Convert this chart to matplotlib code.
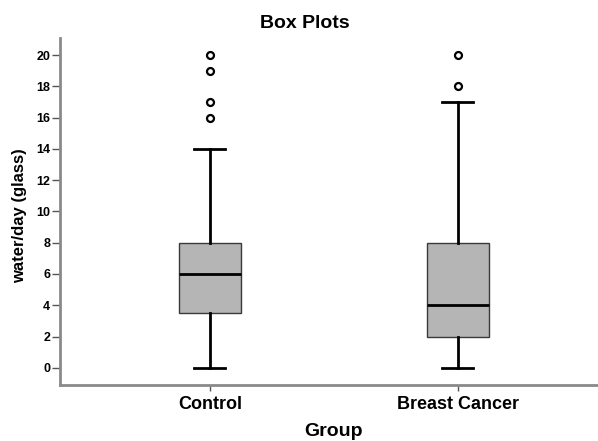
import matplotlib.pyplot as plt

plt.rcParams["font.family"] = ["Liberation Sans", "DejaVu Sans"]

# Data
groups = ["Control", "Breast Cancer"]
whisker_low = [0, 0]
q1 = [3.5, 2]
medians = [6, 4]
q3 = [8, 8]
whisker_high = [14, 17]
outliers = [[16, 17, 19, 20], [18, 20]]
y_ticks = [0, 2, 4, 6, 8, 10, 12, 14, 16, 18, 20]

stats = []
for i, g in enumerate(groups):
    stats.append(
        {
            "label": g,
            "whislo": whisker_low[i],
            "q1": q1[i],
            "med": medians[i],
            "q3": q3[i],
            "whishi": whisker_high[i],
            "fliers": outliers[i],
        }
    )

fig = plt.figure(figsize=(5.98, 4.41), dpi=100)
ax = fig.add_axes([0.1003, 0.127, 0.8997, 0.787])

ax.bxp(
    stats,
    positions=[0, 1],
    widths=0.25,
    patch_artist=True,
    boxprops=dict(facecolor="#b5b5b5", edgecolor="#3a3a3a", linewidth=1.0),
    medianprops=dict(color="black", linewidth=2.0),
    whiskerprops=dict(color="black", linewidth=2.0),
    capprops=dict(color="black", linewidth=2.0),
    capwidths=0.125,
    flierprops=dict(marker="o", markersize=5, markerfacecolor="white",
                    markeredgecolor="black", markeredgewidth=1.6),
)

ax.set_xlim(-0.605, 1.565)
ax.set_ylim(-1.1, 21.1)
ax.set_yticks(y_ticks)
ax.set_yticklabels([str(t) for t in y_ticks], fontsize=9, fontweight="bold")
ax.set_xticks([0, 1])
ax.set_xticklabels(groups, fontsize=13, fontweight="bold")

for side in ["top", "right"]:
    ax.spines[side].set_visible(False)
for side in ["left", "bottom"]:
    ax.spines[side].set_color("#8a8a8a")
    ax.spines[side].set_linewidth(2.0)

ax.tick_params(axis="y", length=6, width=1.0, color="#555555", pad=1)
ax.tick_params(axis="x", length=4, width=1.0, color="#555555", pad=4)

ax.set_ylabel("water/day (glass)", fontsize=12, fontweight="bold")
ax.yaxis.set_label_coords(-0.061, 0.487)
fig.text(0.558, 1 - 432 / 441, "Group", ha="center", va="center",
         fontsize=14, fontweight="bold")
fig.text(0.51, 1 - 24 / 441, "Box Plots", ha="center", va="center",
         fontsize=14, fontweight="bold")

fig.savefig("out.png", dpi=100)
